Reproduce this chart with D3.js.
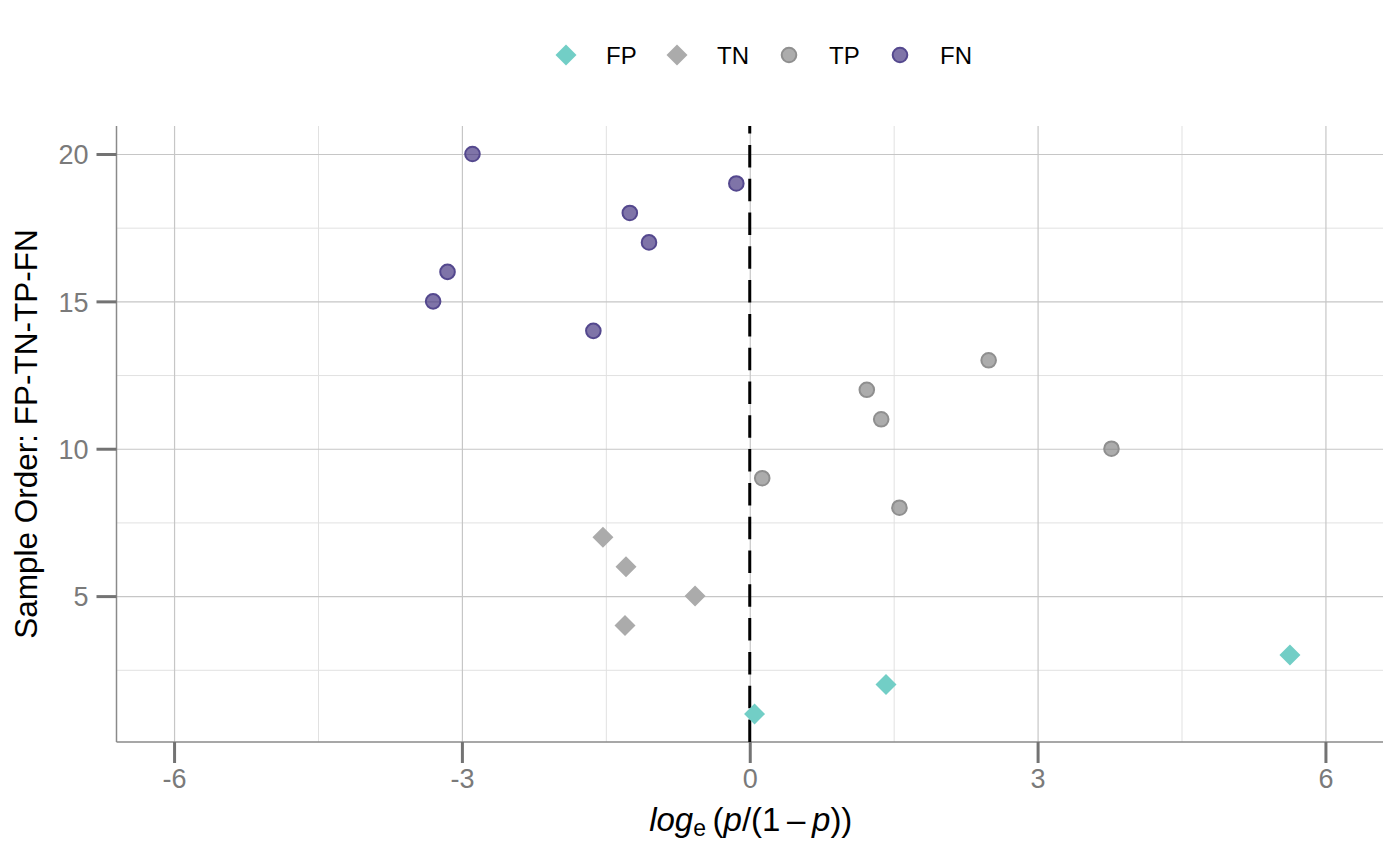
<!DOCTYPE html>
<html>
<head>
<meta charset="utf-8">
<script src="https://cdn.jsdelivr.net/npm/d3@7"></script>
<style>
  body { margin:0; background:#fff; }
  svg text { font-family: "Liberation Sans", Arial, Helvetica, sans-serif; }
</style>
</head>
<body>
<div id="chart"></div>
<script>

//Chart data
var categories = ["FP", "TN", "TP", "FN"];
var fpOrder = [1, 2, 3];
var fpLogit = [0.05, 1.42, 5.63];
var tnOrder = [4, 5, 6, 7];
var tnLogit = [-1.30, -0.57, -1.29, -1.53];
var tpOrder = [8, 9, 10, 11, 12, 13];
var tpLogit = [1.56, 0.13, 3.77, 1.37, 1.22, 2.49];
var fnOrder = [14, 15, 16, 17, 18, 19, 20];
var fnLogit = [-1.63, -3.30, -3.15, -1.05, -1.25, -0.14, -2.89];
var xTicks = [-6, -3, 0, 3, 6];
var xMinor = [-4.5, -1.5, 1.5, 4.5];
var yTicks = [5, 10, 15, 20];
var yMinor = [2.5, 7.5, 12.5, 17.5];


var chart = {

  //**************************************************************************
  //** styles
  //**************************************************************************
    styles: {
        FP: {shape: "diamond", fill: "#72cec6", fillOpacity: 1, stroke: "none"},
        TN: {shape: "diamond", fill: "#ababab", fillOpacity: 1, stroke: "none"},
        TP: {shape: "circle", fill: "#7f7f7f", fillOpacity: 0.65, stroke: "#8f8f8f"},
        FN: {shape: "circle", fill: "#3b2a7a", fillOpacity: 0.65, stroke: "#54488e"}
    },


  //**************************************************************************
  //** getPoints
  //**************************************************************************
    getPoints: function(){
        var points = [];
        var add = function(type, xs, ys){
            xs.forEach(function(v, i){
                points.push({type: type, x: v, y: ys[i]});
            });
        };
        add("FP", fpLogit, fpOrder);
        add("TN", tnLogit, tnOrder);
        add("TP", tpLogit, tpOrder);
        add("FN", fnLogit, fnOrder);
        return points;
    },


  //**************************************************************************
  //** drawMarker
  //**************************************************************************
    drawMarker: function(g, type, cx, cy){
        var s = chart.styles[type];
        if (s.shape==="diamond"){
            var r = 10.5;
            g.append("path")
            .attr("d", "M" + cx + "," + (cy-r) + "L" + (cx+r) + "," + cy +
                       "L" + cx + "," + (cy+r) + "L" + (cx-r) + "," + cy + "Z")
            .attr("fill", s.fill);
        }
        else{
            g.append("circle")
            .attr("cx", cx)
            .attr("cy", cy)
            .attr("r", 7.3)
            .attr("fill", s.fill)
            .attr("fill-opacity", s.fillOpacity)
            .attr("stroke", s.stroke)
            .attr("stroke-width", 2);
        }
    },


  //**************************************************************************
  //** render
  //**************************************************************************
    render: function(parent){
        var width = 1400, height = 866;
        var left = 116.5, right = 1383, top = 126, bottom = 742;

        var svg = d3.select(parent).append("svg")
            .attr("width", width)
            .attr("height", height);

        var x = d3.scaleLinear().domain([-6.6, 6.6]).range([left, right]);
        var y = d3.scaleLinear().domain([0.05, 20.95]).range([bottom, top]);

        //Minor gridlines
        svg.append("g")
        .attr("transform", "translate(0," + bottom + ")")
        .call(d3.axisBottom(x).tickValues(xMinor).tickSize(-(bottom-top)).tickFormat(""))
        .call(function(g){ g.select(".domain").remove(); })
        .selectAll("line").attr("stroke", "#e1e1e1").attr("stroke-width", 1);

        svg.append("g")
        .attr("transform", "translate(" + left + ",0)")
        .call(d3.axisLeft(y).tickValues(yMinor).tickSize(-(right-left)).tickFormat(""))
        .call(function(g){ g.select(".domain").remove(); })
        .selectAll("line").attr("stroke", "#e1e1e1").attr("stroke-width", 1);

        //Major gridlines
        svg.append("g")
        .attr("transform", "translate(0," + bottom + ")")
        .call(d3.axisBottom(x).tickValues(xTicks).tickSize(-(bottom-top)).tickFormat(""))
        .call(function(g){ g.select(".domain").remove(); })
        .selectAll("line").attr("stroke", "#c6c6c6").attr("stroke-width", 1.2);

        svg.append("g")
        .attr("transform", "translate(" + left + ",0)")
        .call(d3.axisLeft(y).tickValues(yTicks).tickSize(-(right-left)).tickFormat(""))
        .call(function(g){ g.select(".domain").remove(); })
        .selectAll("line").attr("stroke", "#c6c6c6").attr("stroke-width", 1.2);

        //Axis lines
        svg.append("line")
        .attr("x1", left).attr("x2", left).attr("y1", top).attr("y2", bottom)
        .attr("stroke", "#8a8a8a").attr("stroke-width", 1.5);
        svg.append("line")
        .attr("x1", left).attr("x2", right).attr("y1", bottom).attr("y2", bottom)
        .attr("stroke", "#8a8a8a").attr("stroke-width", 1.5);

        //Reference line at zero (dashes start at the bottom)
        svg.append("line")
        .attr("x1", x(0)).attr("x2", x(0))
        .attr("y1", bottom).attr("y2", top)
        .attr("stroke", "#000")
        .attr("stroke-width", 3)
        .attr("stroke-dasharray", "22.5,11.3");

        //Points
        var pts = svg.append("g");
        chart.getPoints().forEach(function(d){
            chart.drawMarker(pts, d.type, x(d.x), y(d.y));
        });

        //X axis ticks + labels
        var xAxis = svg.append("g")
            .attr("transform", "translate(0," + bottom + ")")
            .call(d3.axisBottom(x).tickValues(xTicks).tickSize(21).tickPadding(6)
                .tickFormat(function(d){ return d3.format("d")(d).replace("\u2212", "-"); }));
        xAxis.select(".domain").remove();
        xAxis.selectAll("line").attr("stroke", "#737373").attr("stroke-width", 3);
        xAxis.selectAll("text")
            .attr("fill", "#7a7a7a")
            .style("font-size", "27px")
            .style("font-family", "Liberation Sans, Arial, sans-serif");

        //Y axis ticks + labels
        var yAxis = svg.append("g")
            .attr("transform", "translate(" + left + ",0)")
            .call(d3.axisLeft(y).tickValues(yTicks).tickSize(20).tickPadding(8));
        yAxis.select(".domain").remove();
        yAxis.selectAll("line").attr("stroke", "#737373").attr("stroke-width", 3);
        yAxis.selectAll("text")
            .attr("fill", "#7a7a7a")
            .attr("dy", "0.36em")
            .style("font-size", "27px")
            .style("font-family", "Liberation Sans, Arial, sans-serif");

        //Y axis title
        svg.append("text")
        .attr("transform", "translate(37," + ((top+bottom)/2) + ") rotate(-90)")
        .style("text-anchor", "middle")
        .style("font-size", "31.5px")
        .attr("fill", "#000")
        .text("Sample Order: FP-TN-TP-FN");

        //X axis title: log_e(p/(1-p))
        var xt = svg.append("text")
            .attr("x", (left+right)/2 + 1)
            .attr("y", 831)
            .style("text-anchor", "middle")
            .style("font-size", "33px")
            .attr("fill", "#000");
        xt.append("tspan").style("font-style", "italic").text("log");
        xt.append("tspan").attr("dy", 5).style("font-size", "23px").text("e");
        xt.append("tspan").attr("dy", -5).text("\u2009(");
        xt.append("tspan").style("font-style", "italic").text("p");
        xt.append("tspan").text("/(1\u2009\u2013\u2009");
        xt.append("tspan").style("font-style", "italic").text("p");
        xt.append("tspan").text("))");

        //Legend
        var legendX = [566, 677, 789, 900];
        var legend = svg.append("g");
        categories.forEach(function(c, i){
            chart.drawMarker(legend, c, legendX[i], 55);
            legend.append("text")
            .attr("x", legendX[i] + 40)
            .attr("y", 55)
            .attr("dy", "0.36em")
            .style("font-size", "24px")
            .attr("fill", "#000")
            .text(c);
        });
    }
};

chart.render(document.getElementById("chart"));
</script>
</body>
</html>
